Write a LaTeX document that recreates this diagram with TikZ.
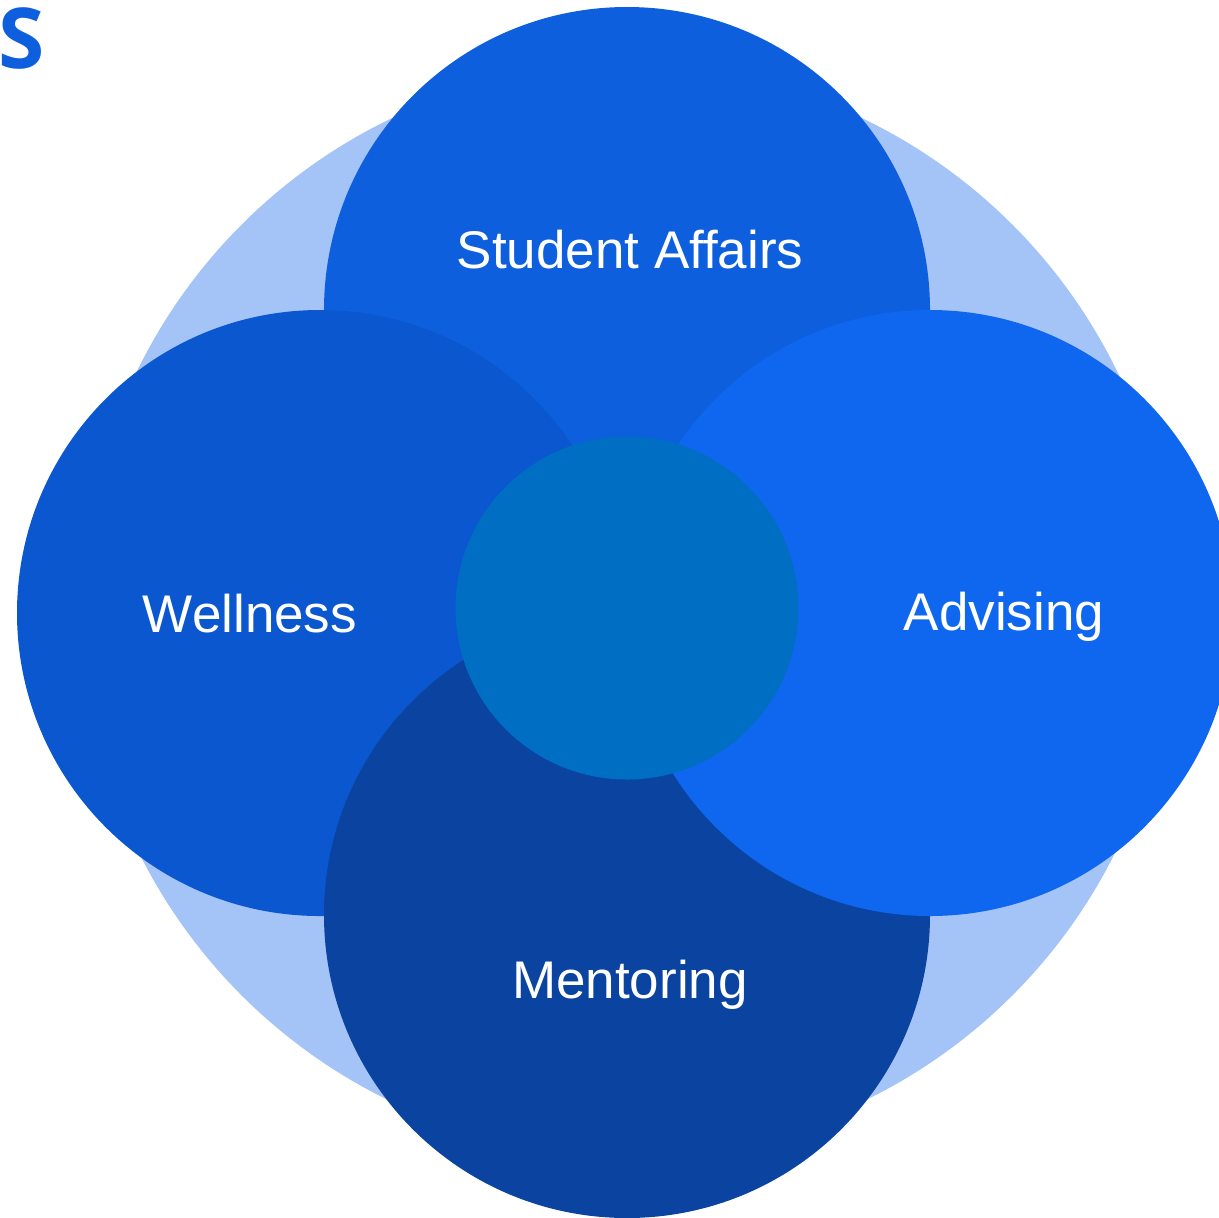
\documentclass[tikz,border=0pt]{standalone}
\usepackage{fontspec}
\setmainfont{Liberation Sans}
\newfontfamily\logofont{Open Sans}
\begin{document}
\begin{tikzpicture}[x=0.5pt,y=-0.5pt]
  \definecolor{ringlight}{HTML}{A4C3F6}
  \definecolor{topblue}{HTML}{0E5FDD}
  \definecolor{leftblue}{HTML}{0B57D0}
  \definecolor{rightblue}{HTML}{0F67EF}
  \definecolor{bottomblue}{HTML}{0A44A0}
  \definecolor{coreblue}{HTML}{006EC2}
  \tikzset{
    petal/.style={circle, inner sep=0pt, minimum size=303pt, draw=none},
    core/.style={circle, inner sep=0pt, minimum size=171.5pt, draw=none, fill=coreblue},
    label/.style={text=white, font=\fontsize{26.5pt}{30pt}\selectfont, inner sep=0pt, anchor=base}
  }
  \useasboundingbox (0,0) rectangle (1219,1217);
  % outer halo
  \node[circle, inner sep=0pt, minimum size=545pt, fill=ringlight] (halo) at (627,610) {};
  % four overlapping petals
  \node[petal, fill=topblue] (affairs) at (627,310) {};
  \node[petal, fill=leftblue] (wellness) at (320,613) {};
  \node[petal, fill=bottomblue] (mentoring) at (627,915) {};
  \node[petal, fill=rightblue] (advising) at (930,613) {};
  % centre disc
  \node[core] (hub) at (627,608) {};
  % labels
  \node[label] (affairsT) at (630,268) {Student Affairs};
  \node[label] (wellnessT) at (250,632) {Wellness};
  \node[label] (advisingT) at (1004,630) {Advising};
  \node[label] (mentoringT) at (630,998) {Mentoring};
  % corner mark
  \node[anchor=base west, inner sep=0pt, text=topblue, font=\logofont\bfseries\fontsize{42pt}{46pt}\selectfont] (mark) at (-2,68) {S};
\end{tikzpicture}
\end{document}
